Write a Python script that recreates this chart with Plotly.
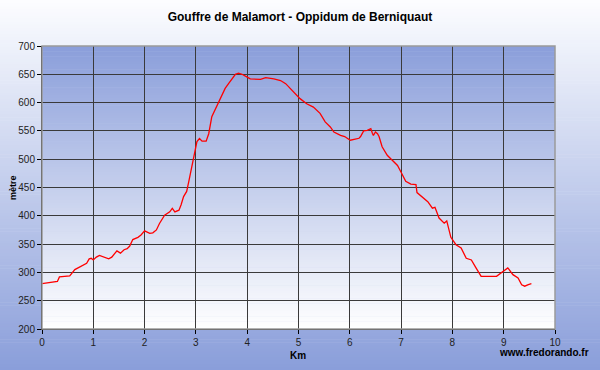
import plotly.graph_objects as go

TITLE = "Gouffre de Malamort - Oppidum de Berniquaut"

km = [0.0, 0.1, 0.21, 0.3, 0.34, 0.45, 0.54, 0.64, 0.72, 0.8, 0.87, 0.92, 0.96, 1.0,
      1.06, 1.12, 1.2, 1.3, 1.36, 1.46, 1.53, 1.6, 1.66, 1.71, 1.77, 1.87, 1.93, 2.0,
      2.1, 2.16, 2.23, 2.29, 2.39, 2.49, 2.54, 2.59, 2.67, 2.71, 2.76, 2.82, 2.86, 2.9,
      2.95, 2.99, 3.02, 3.07, 3.12, 3.2, 3.25, 3.31, 3.38, 3.44, 3.51, 3.57, 3.64, 3.7,
      3.77, 3.83, 3.9, 4.0, 4.06, 4.26, 4.36, 4.52, 4.65, 4.75, 4.84, 4.97, 5.03, 5.16,
      5.29, 5.42, 5.52, 5.62, 5.69, 5.82, 5.9, 6.01, 6.11, 6.18, 6.21, 6.27, 6.34, 6.39,
      6.41, 6.44, 6.46, 6.5, 6.54, 6.57, 6.63, 6.73, 6.83, 6.93, 7.0, 7.09, 7.19, 7.29,
      7.31, 7.45, 7.52, 7.61, 7.66, 7.74, 7.84, 7.89, 7.97, 8.07, 8.17, 8.27, 8.37, 8.46,
      8.56, 8.86, 8.95, 9.08, 9.18, 9.28, 9.35, 9.41, 9.48, 9.54]
elev = [280, 281, 282, 284, 292, 293, 294, 305, 309, 313.6, 316, 324, 325, 322,
        327, 330, 327, 324, 327, 338, 334, 340, 342, 346.5, 358, 362, 366, 373.5,
        369, 370, 375, 386.5, 401, 407, 413, 407, 410, 419, 434, 443, 460, 478,
        498, 516, 531, 536.5, 532, 532, 545, 575, 589, 601, 613, 625, 634, 642,
        650, 652, 650, 645, 642, 641, 644, 642, 639, 633.5, 625, 613, 607, 598,
        592, 581, 566, 557, 548, 542, 540, 533.5, 535, 537, 540, 550, 551, 553,
        554, 546, 542, 548, 545, 540, 522, 507, 498, 489, 477, 461, 456, 455,
        441, 431, 425, 413.5, 415, 396, 387, 391, 362, 349, 343, 325, 322, 308,
        293, 293, 299, 308, 296, 290, 278, 275.6, 278.5, 280]

x_ticks = list(range(0, 11))
y_ticks = list(range(200, 701, 50))

W, H = 600, 370
L, R, T, B = 42, 45, 46, 41
pw, ph = W - L - R, H - T - B

BLUE = (138, 158, 218)
WHITE = (255, 255, 255)
PAPER_TOP = (252, 253, 255)


def mix(c1, c2, t):
    return "rgb(%d,%d,%d)" % tuple(round(a + (b - a) * t) for a, b in zip(c1, c2))


def py(px):  # pixel y -> paper y
    return (H - B - px) / ph


def pxx(px):
    return (px - L) / pw


shapes = []
# page background gradient (light top -> blue bottom)
n = 120
for i in range(n):
    y0p = H * i / n
    y1p = H * (i + 1) / n + 0.6
    shapes.append(dict(type="rect", xref="paper", yref="paper", layer="below",
                       x0=pxx(-2), x1=pxx(W + 2), y0=py(y1p), y1=py(y0p),
                       fillcolor=mix(PAPER_TOP, BLUE, (i + 0.5) / n), line_width=0))
# plot area gradient (blue top -> white bottom)
n2 = 110
for i in range(n2):
    y0 = 1 - i / n2
    y1 = 1 - (i + 1) / n2 - 0.002
    shapes.append(dict(type="rect", xref="paper", yref="paper", layer="below",
                       x0=0, x1=1, y0=max(y1, 0), y1=y0,
                       fillcolor=mix(BLUE, WHITE, (i + 0.5) / n2), line_width=0))
# plot area border (gray top/right)
shapes.append(dict(type="rect", xref="paper", yref="paper", layer="above",
                   x0=0, x1=1, y0=0, y1=1, line=dict(color="#9a9a9a", width=1.5),
                   fillcolor="rgba(0,0,0,0)"))

fig = go.Figure()
fig.add_trace(go.Scatter(x=km, y=elev, mode="lines",
                         line=dict(color="#ff0000", width=1.3), showlegend=False,
                         hoverinfo="skip"))

fig.update_layout(
    width=W, height=H,
    margin=dict(l=L, r=R, t=T, b=B),
    paper_bgcolor="#ffffff",
    plot_bgcolor="rgba(0,0,0,0)",
    shapes=shapes,
    font=dict(family="Liberation Sans, Arial, sans-serif", size=10, color="#222"),
    title=dict(text="<b>" + TITLE + "</b>", x=0.5, xref="container", xanchor="center",
               y=1 - 16.5 / H, yref="container", yanchor="middle",
               font=dict(size=12, color="#000")),
    xaxis=dict(range=[0, 10], tickvals=x_ticks, ticktext=[str(v) for v in x_ticks],
               showgrid=True, gridcolor="#3a3a3a", gridwidth=1,
               showline=True, linecolor="#000", linewidth=1,
               ticks="outside", ticklen=4, tickcolor="#000",
               zeroline=False, tickfont=dict(size=10, color="#222")),
    yaxis=dict(range=[200, 700], tickvals=y_ticks, ticktext=[str(v) for v in y_ticks],
               showgrid=True, gridcolor="#3a3a3a", gridwidth=1,
               showline=True, linecolor="#000", linewidth=1,
               ticks="outside", ticklen=4, tickcolor="#000",
               zeroline=False, tickfont=dict(size=10, color="#222")),
    annotations=[
        dict(text="<b>mètre</b>", textangle=-90, xref="paper", yref="paper",
             x=pxx(13), y=py(188), showarrow=False, xanchor="center", yanchor="middle",
             font=dict(size=9, color="#000")),
        dict(text="<b>Km</b>", xref="paper", yref="paper",
             x=pxx(298), y=py(355), showarrow=False, xanchor="center", yanchor="middle",
             font=dict(size=10, color="#000")),
        dict(text="<b>www.fredorando.fr</b>", xref="paper", yref="paper",
             x=pxx(591), y=py(352), showarrow=False, xanchor="right", yanchor="middle",
             font=dict(size=10, color="#000")),
    ],
)

fig.write_html("out.html", config={"displayModeBar": False},
               post_script="document.body.style.margin='0';")
